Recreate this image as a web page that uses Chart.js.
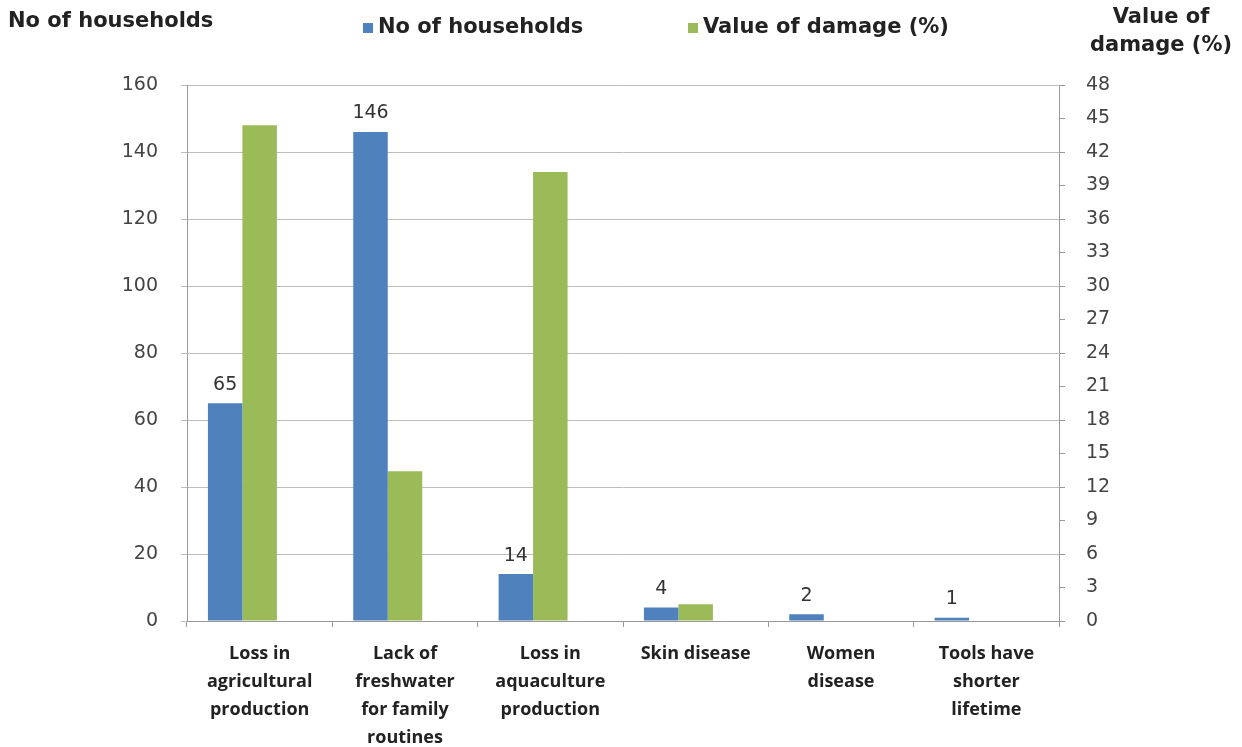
<!DOCTYPE html>
<html>
<head>
<meta charset="utf-8">
<title>Households and value of damage</title>
<script src="https://cdn.jsdelivr.net/npm/chart.js@4/dist/chart.umd.min.js"></script>
<style>
  body { margin: 0; background: #fff; }
  canvas { display: block; }
</style>
</head>
<body>
<canvas id="damageChart" width="1242" height="747"></canvas>
<script>
const categories = [
    ["Loss in", "agricultural", "production"],
    ["Lack of", "freshwater", "for family", "routines"],
    ["Loss in", "aquaculture", "production"],
    ["Skin disease"],
    ["Women", "disease"],
    ["Tools have", "shorter", "lifetime"]
];

const households = [65, 146, 14, 4, 2, 1];
const damagePct = [44.4, 13.4, 40.2, 1.5, 0, 0];

const leftTicks = [0, 20, 40, 60, 80, 100, 120, 140, 160];
const rightTicks = [0, 3, 6, 9, 12, 15, 18, 21, 24, 27, 30, 33, 36, 39, 42, 45, 48];

const seriesNames = ["No of households", "Value of damage (%)"];
const blue = "#4f81bd";
const green = "#9bbb59";

const tickFont = { family: "'DejaVu Sans', Verdana, sans-serif", size: 19 };
const boldFont = "bold 21px 'DejaVu Sans', sans-serif";

// titles, legend and value labels drawn on top of the chart
const decorations = {
    id: "decorations",
    afterDatasetsDraw(chart) {
        const ctx = chart.ctx;
        ctx.save();

        // value labels above the household bars
        ctx.font = "19px 'DejaVu Sans', Verdana, sans-serif";
        ctx.fillStyle = "#333";
        ctx.textAlign = "center";
        ctx.textBaseline = "bottom";
        chart.getDatasetMeta(0).data.forEach((bar, i) => {
            ctx.fillText(String(households[i]), bar.x, bar.y - 9);
        });

        ctx.font = boldFont;
        ctx.fillStyle = "#222";
        ctx.textBaseline = "middle";

        // axis titles
        ctx.textAlign = "left";
        ctx.fillText(seriesNames[0], 8, 22);
        ctx.textAlign = "center";
        ctx.fillText("Value of", 1161, 18);
        ctx.fillText("damage (%)", 1161, 46);

        // legend
        ctx.textAlign = "left";
        const entries = [
            { x: 363, color: blue, text: seriesNames[0] },
            { x: 688, color: green, text: seriesNames[1] }
        ];
        entries.forEach(e => {
            ctx.fillStyle = e.color;
            ctx.fillRect(e.x, 23, 10, 10);
            ctx.fillStyle = "#222";
            ctx.fillText(e.text, e.x + 15, 28);
        });

        ctx.restore();
    }
};

new Chart(document.getElementById("damageChart"), {
    type: "bar",
    data: {
        labels: categories,
        datasets: [
            {
                label: seriesNames[0],
                data: households,
                backgroundColor: blue,
                yAxisID: "y",
                barPercentage: 1.0,
                categoryPercentage: 0.712
            },
            {
                label: seriesNames[1],
                data: damagePct,
                backgroundColor: green,
                yAxisID: "y2",
                barPercentage: 1.0,
                categoryPercentage: 0.712
            },
            {
                // empty slot that keeps the pair left of the category centre
                label: "",
                data: categories.map(() => null),
                yAxisID: "y",
                categoryPercentage: 0.712
            }
        ]
    },
    options: {
        responsive: false,
        animation: false,
        layout: { padding: { top: 85, left: 0, right: 0, bottom: 0 } },
        plugins: {
            legend: { display: false },
            tooltip: { enabled: false }
        },
        scales: {
            x: {
                grid: {
                    drawOnChartArea: false,
                    drawTicks: true,
                    tickLength: 6,
                    color: "#999"
                },
                border: { color: "#999" },
                ticks: {
                    font: { family: "'Open Sans', sans-serif", size: 18, weight: "bold", lineHeight: 1.55 },
                    color: "#222",
                    padding: 13,
                    maxRotation: 0,
                    autoSkip: false
                },
                afterFit(scale) { scale.height = 126; }
            },
            y: {
                position: "left",
                min: 0,
                max: 160,
                afterBuildTicks(scale) { scale.ticks = leftTicks.map(v => ({ value: v })); },
                grid: { color: "#bdbdbd", tickLength: 6 },
                border: { color: "#999" },
                ticks: { font: tickFont, color: "#444", padding: 23 },
                afterFit(scale) { scale.width = 187; }
            },
            y2: {
                position: "right",
                min: 0,
                max: 48,
                afterBuildTicks(scale) { scale.ticks = rightTicks.map(v => ({ value: v })); },
                grid: { drawOnChartArea: false, color: "#999", tickLength: 6 },
                border: { color: "#999" },
                ticks: { font: tickFont, color: "#444", padding: 21 },
                afterFit(scale) { scale.width = 183; }
            }
        }
    },
    plugins: [decorations]
});
</script>
</body>
</html>
